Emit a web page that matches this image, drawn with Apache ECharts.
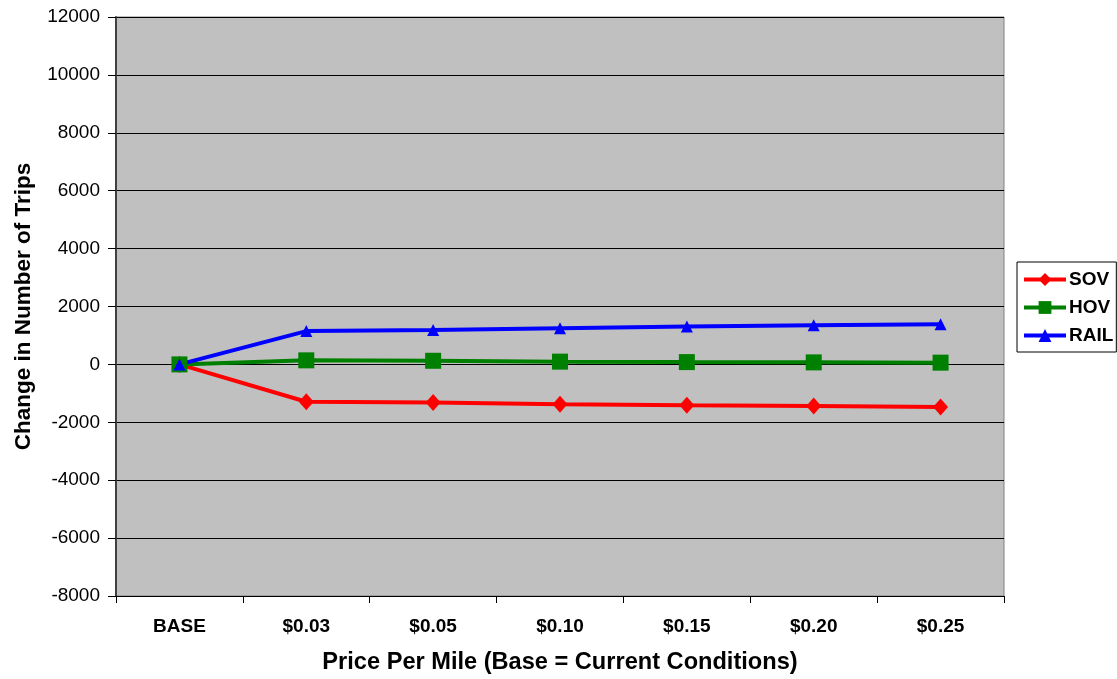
<!DOCTYPE html>
<html>
<head>
<meta charset="utf-8">
<script src="https://cdn.jsdelivr.net/npm/echarts@6/dist/echarts.min.js"></script>
<style>
  html, body { margin: 0; padding: 0; background: #fff; }
  #chart { width: 1117px; height: 679px; }
</style>
</head>
<body>
<div id="chart"></div>
<script>
// Price levels per mile
const categories = ['BASE', '$0.03', '$0.05', '$0.10', '$0.15', '$0.20', '$0.25'];

// Change in number of trips by mode
const sovValues  = [0, -1290, -1320, -1380, -1415, -1440, -1470];
const hovValues  = [0, 140, 125, 95, 80, 70, 60];
const railValues = [0, 1150, 1185, 1250, 1310, 1355, 1390];

const yTicks = { min: -8000, max: 12000, interval: 2000 };

const font = 'Liberation Sans, Arial, sans-serif';

const chart = echarts.init(document.getElementById('chart'), null, { renderer: 'canvas' });

function lineSeries(name, data, color, symbol, size) {
  return {
    name: name,
    type: 'line',
    data: data,
    symbol: symbol,
    symbolSize: size,
    showAllSymbol: true,
    lineStyle: { color: color, width: 4 },
    itemStyle: { color: color, borderWidth: 0 },
    emphasis: { disabled: true },
    animation: false
  };
}

chart.setOption({
  animation: false,
  backgroundColor: '#ffffff',
  grid: {
    left: 116, right: 113, top: 17, bottom: 82,
    show: true,
    backgroundColor: '#c0c0c0',
    borderColor: '#808080',
    borderWidth: 1
  },
  legend: {
    orient: 'vertical',
    left: 1017, top: 262,
    padding: [8, 3, 7, 5],
    itemGap: 9,
    itemWidth: 42,
    itemHeight: 16,
    borderColor: '#000',
    borderWidth: 1,
    backgroundColor: '#fff',
    lineStyle: { width: 4 },
    textStyle: { fontFamily: font, fontWeight: 'bold', fontSize: 19, color: '#000', padding: [0, 0, 0, -2] },
    data: ['SOV', 'HOV', 'RAIL']
  },
  xAxis: {
    type: 'category',
    data: categories,
    boundaryGap: true,
    name: 'Price Per Mile (Base = Current Conditions)',
    nameLocation: 'middle',
    nameGap: 54,
    nameTextStyle: { fontFamily: font, fontWeight: 'bold', fontSize: 23.6, color: '#000' },
    axisLine: { show: true, onZero: false, lineStyle: { color: '#000', width: 1 } },
    axisTick: { show: true, length: 7, lineStyle: { color: '#000' } },
    axisLabel: { fontFamily: font, fontWeight: 'bold', fontSize: 19, color: '#000', margin: 21 },
    splitLine: { show: false }
  },
  yAxis: {
    type: 'value',
    min: yTicks.min, max: yTicks.max, interval: yTicks.interval,
    name: 'Change in Number of Trips',
    nameLocation: 'middle',
    nameGap: 81,
    nameRotate: 90,
    nameTextStyle: { fontFamily: font, fontWeight: 'bold', fontSize: 22.5, color: '#000' },
    axisLine: { show: true, lineStyle: { color: '#404040', width: 2 } },
    axisTick: { show: true, length: 8, inside: false, lineStyle: { color: '#000' } },
    axisLabel: { fontFamily: font, fontSize: 19, color: '#000', margin: 16, formatter: function (v) { return String(v); } },
    splitLine: { show: true, lineStyle: { color: '#000', width: 1 } }
  },
  series: [
    lineSeries('SOV', sovValues, '#ff0000', 'diamond', [15, 17]),
    lineSeries('HOV', hovValues, '#008000', 'rect', 16),
    lineSeries('RAIL', railValues, '#0000ff', 'triangle', 12)
  ]
});
</script>
</body>
</html>
